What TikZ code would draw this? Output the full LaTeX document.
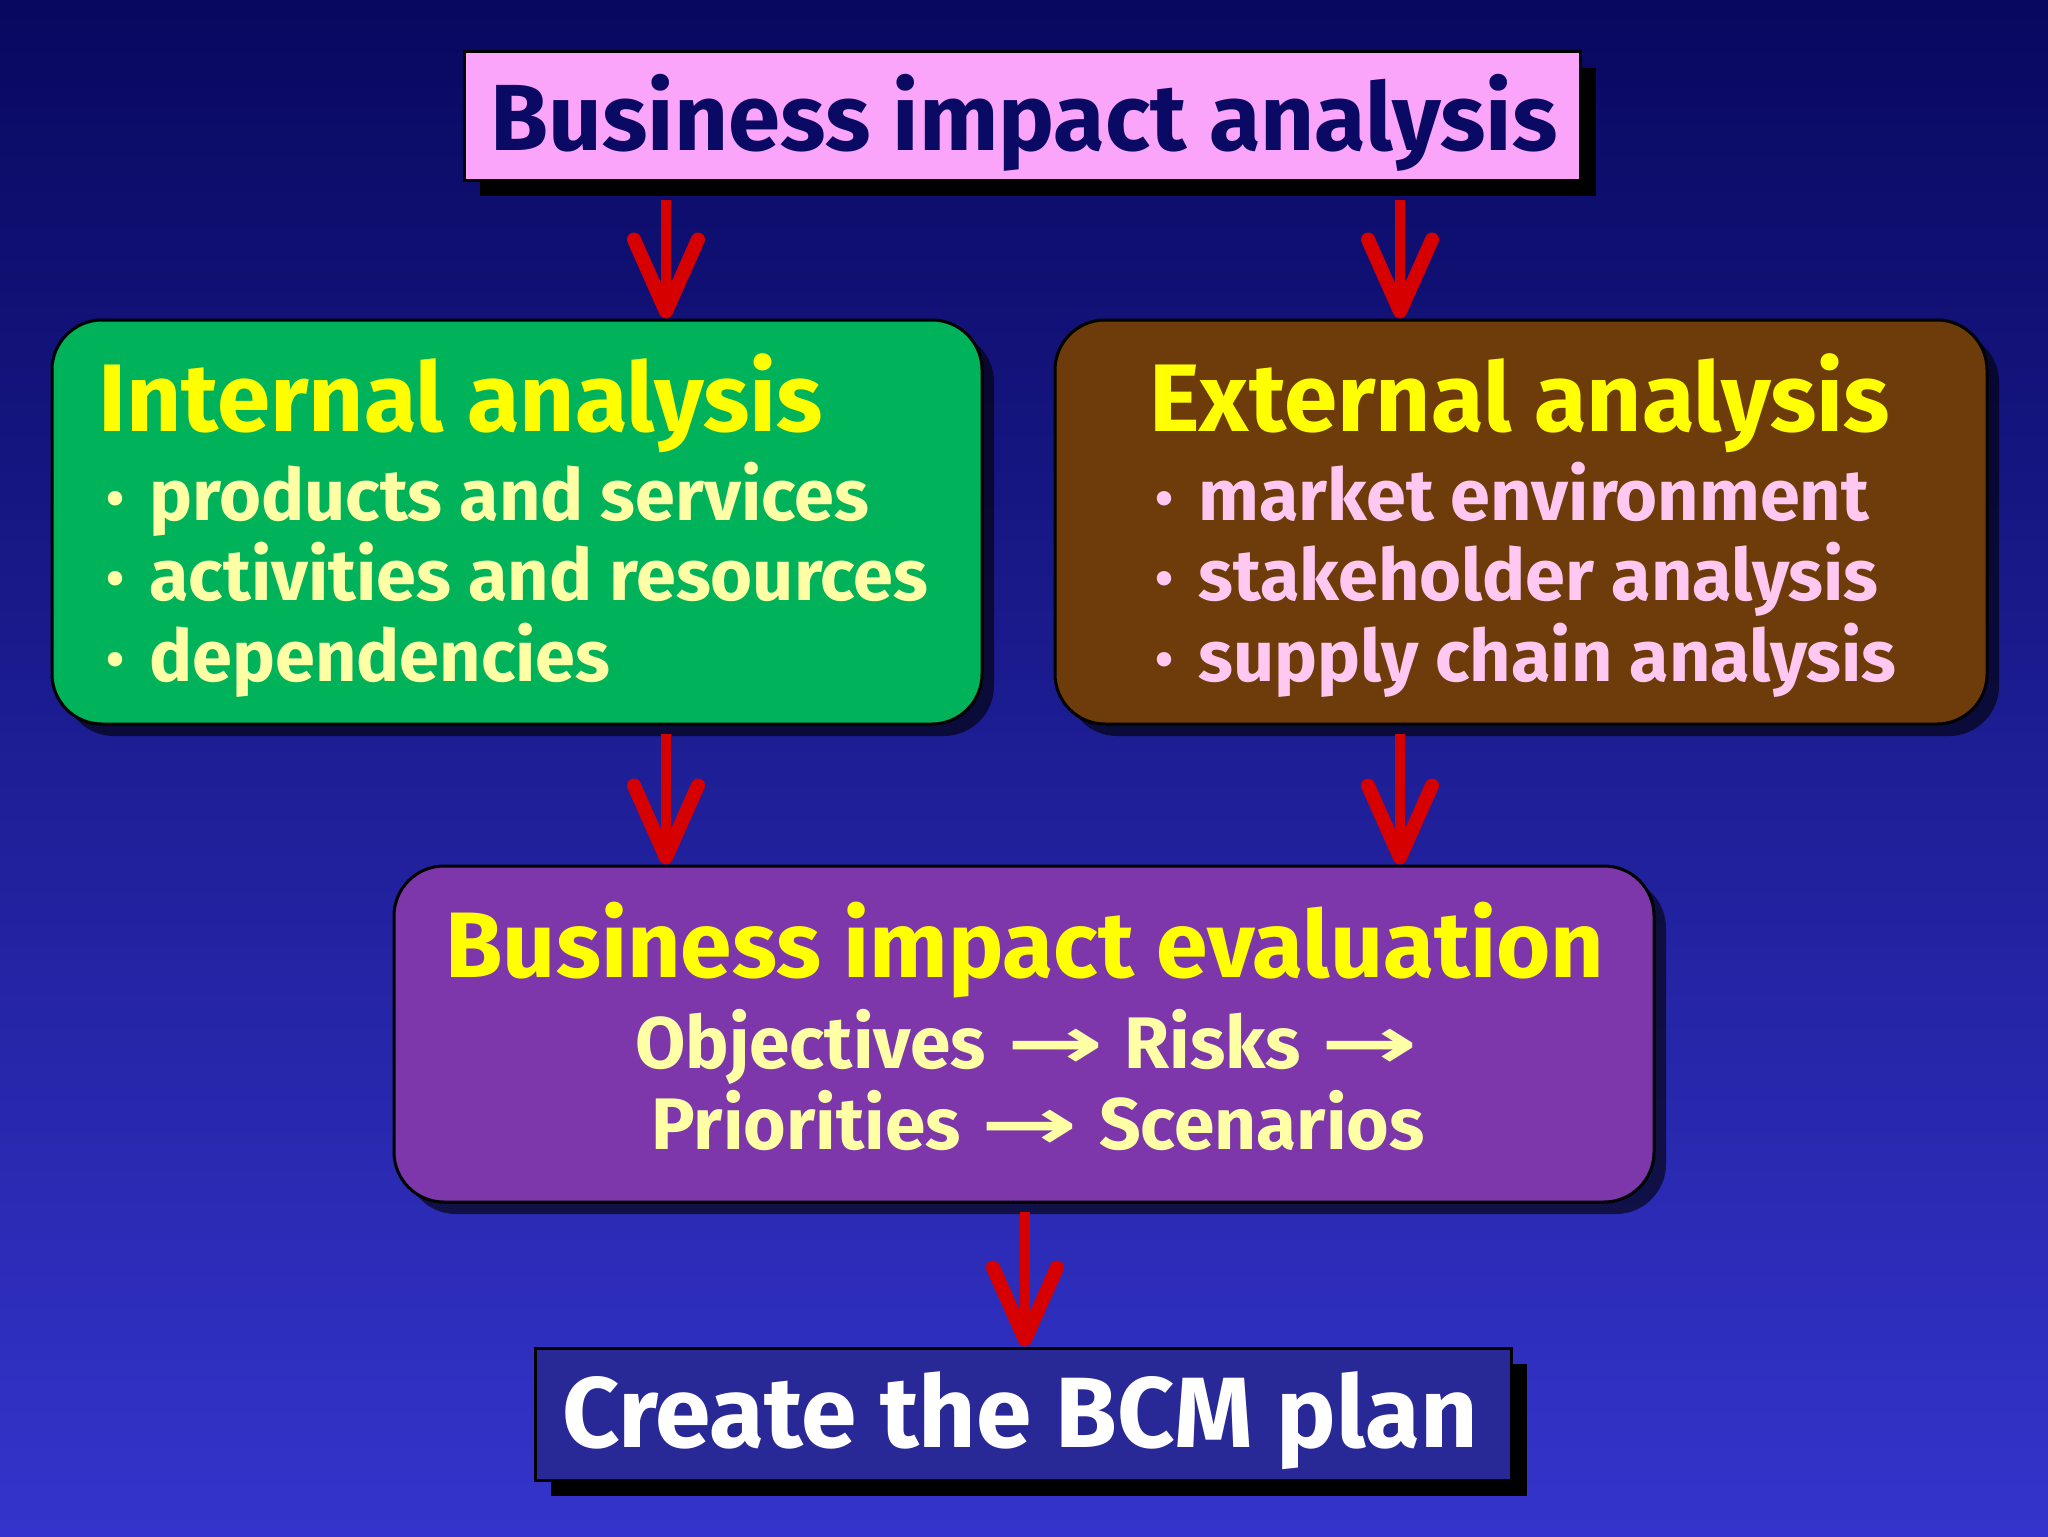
\documentclass[tikz,border=0pt]{standalone}
\usepackage{fontspec}
\setmainfont{Fira Sans}
\newfontfamily\arrowfont{DejaVu Sans}
\usetikzlibrary{arrows.meta,shadows,positioning}

\definecolor{bgtop}{RGB}{8,8,96}
\definecolor{bgbot}{RGB}{52,52,204}
\definecolor{titlepink}{RGB}{250,165,250}
\definecolor{titlenavy}{RGB}{10,10,100}
\definecolor{boxgreen}{RGB}{0,178,90}
\definecolor{boxbrown}{RGB}{110,60,10}
\definecolor{boxpurple}{RGB}{125,55,170}
\definecolor{boxblue}{RGB}{40,40,150}
\definecolor{headyellow}{RGB}{255,255,0}
\definecolor{paleyellow}{RGB}{255,255,165}
\definecolor{palepink}{RGB}{255,200,240}
\definecolor{arrowred}{RGB}{215,0,0}

\tikzset{
  plainbox/.style={draw=black, line width=1.5pt, inner sep=0pt},
  roundbox/.style={plainbox, rounded corners=25pt,
    drop shadow={shadow xshift=6pt, shadow yshift=-6pt, opacity=0.6, fill=black}},
  flatbox/.style={plainbox,
    drop shadow={shadow xshift=8pt, shadow yshift=-8pt, opacity=1, fill=black}},
  flow/.style={draw=arrowred, line width=5pt, shorten <=4pt,
    -{Straight Barb[length=36pt,width=32pt,line width=7pt,round]}},
  headtxt/.style={inner sep=0pt, text=headyellow, font=\bfseries\fontsize{48}{52}\selectfont},
  itemtxt/.style={anchor=base west, inner sep=0pt, font=\bfseries\fontsize{36}{40}\selectfont},
  evaltxt/.style={anchor=base, inner sep=0pt, text=paleyellow, font=\bfseries\fontsize{36.5}{40}\selectfont},
}

\newcommand{\bul}{\makebox[21.5pt][l]{\raisebox{2pt}{\fontsize{26}{26}\selectfont\textbullet}}}
\newcommand{\longto}{\;\scalebox{1.6}[1]{\arrowfont\bfseries →}\;}

\begin{document}
\begin{tikzpicture}[x=0.5pt,y=-0.5pt]
  \useasboundingbox (0,0) rectangle (2048,1536);
  \shade[top color=bgtop, bottom color=bgbot] (0,0) rectangle (2048,1536);

  \coordinate (lcol) at (666,0);
  \coordinate (rcol) at (1400,0);
  \coordinate (mcol) at (1025,0);

  \node[flatbox, fill=titlepink, minimum width=558pt, minimum height=64pt] (bia) at (1022,116) {};
  \node[roundbox, fill=boxgreen, minimum width=465pt, minimum height=202pt] (internal) at (517,522) {};
  \node[roundbox, fill=boxbrown, minimum width=466pt, minimum height=202pt] (external) at (1521,522) {};
  \node[roundbox, fill=boxpurple, minimum width=630pt, minimum height=168pt] (evaluation) at (1024,1034) {};
  \node[flatbox, fill=boxblue, minimum width=488pt, minimum height=66pt] (bcmplan) at (1023,1414) {};

  \draw[flow, shorten <=9pt] (bia.south -| lcol) -- (internal.north -| lcol);
  \draw[flow, shorten <=9pt] (bia.south -| rcol) -- (external.north -| rcol);
  \draw[flow] (internal.south -| lcol) -- (evaluation.north -| lcol);
  \draw[flow] (external.south -| rcol) -- (evaluation.north -| rcol);
  \draw[flow] (evaluation.south -| mcol) -- (bcmplan.north -| mcol);

  \node[headtxt, anchor=base, text=titlenavy, font=\bfseries\fontsize{47}{50}\selectfont] (biatext) at (1024,150) {Business impact analysis};

  \node[headtxt, anchor=base west] (inthead) at (98,431) {Internal analysis};
  \node[itemtxt, text=paleyellow] (int1) at (106,520) {\bul products and services};
  \node[itemtxt, text=paleyellow] (int2) at (106,600) {\bul activities and resources};
  \node[itemtxt, text=paleyellow] (int3) at (106,681) {\bul dependencies};

  \node[headtxt, anchor=base west] (exthead) at (1149,431) {External analysis};
  \node[itemtxt, text=palepink] (ext1) at (1155,520) {\bul market environment};
  \node[itemtxt, text=palepink] (ext2) at (1155,600) {\bul stakeholder analysis};
  \node[itemtxt, text=palepink] (ext3) at (1155,681) {\bul supply chain analysis};

  \node[headtxt, anchor=base, font=\bfseries\fontsize{46.5}{50}\selectfont] (evalhead) at (1025,977) {Business impact evaluation};
  \node[evaltxt] (eval1) at (1037,1068) {Objectives\longto Risks\longto};
  \node[evaltxt] (eval2) at (1038,1149) {Priorities\longto Scenarios};

  \node[headtxt, anchor=base, text=white, font=\bfseries\fontsize{50}{54}\selectfont] (bcmtext) at (1020,1447) {Create the BCM plan};
\end{tikzpicture}
\end{document}
